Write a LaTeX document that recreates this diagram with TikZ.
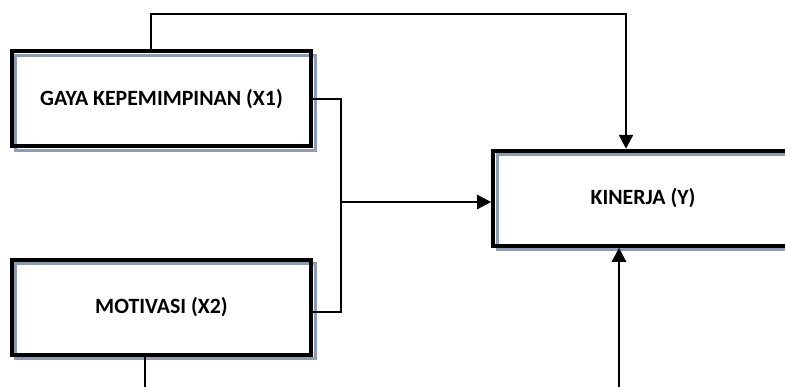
\documentclass[tikz,border=0pt]{standalone}
\usepackage{fontspec}
\setmainfont{Carlito}
\usetikzlibrary{arrows.meta}
\definecolor{shadowc}{RGB}{141,155,181}
\tikzset{
  box/.style={draw=black, line width=4pt, minimum width=299.6pt, minimum height=95pt,
    inner sep=0pt, font=\fontsize{21.8}{26}\selectfont\bfseries,
    preaction={draw=shadowc, line width=3.2pt, transform canvas={shift={(4pt,-4pt)}}}},
  conn/.style={draw=black, line width=2.5pt},
  arr/.style={conn, -{Triangle[length=14pt,width=14pt]}}
}
\begin{document}
\begin{tikzpicture}[x=1pt,y=-1pt]
\useasboundingbox (0,0) rectangle (785,387);
\clip (0,0) rectangle (785,387);
\node[box] (x1) at (161.5,98.8) {GAYA KEPEMIMPINAN (X1)};
\node[box] (x2) at (161.5,307.2) {MOTIVASI (X2)};
\node[box] (y) at (643,198.3) {KINERJA (Y)};
\coordinate (t1) at (151,14);
\coordinate (t2) at (626,14);
\coordinate (j) at (341,202);
\coordinate (j2) at (341,312);
\coordinate (b1) at (145,387);
\coordinate (b2) at (619,387);
\draw[arr] (x1.north -| t1) -- (t1) -- (t2) -- (y.north -| t2);
\draw[conn] (x1.east) -| (j2) -- (j2 -| x2.east);
\draw[arr] (j) -- (j -| y.west);
\draw[conn] (x2.south -| b1) -- (b1);
\draw[arr] (b2) -- (b2 |- y.south);
\end{tikzpicture}
\end{document}
